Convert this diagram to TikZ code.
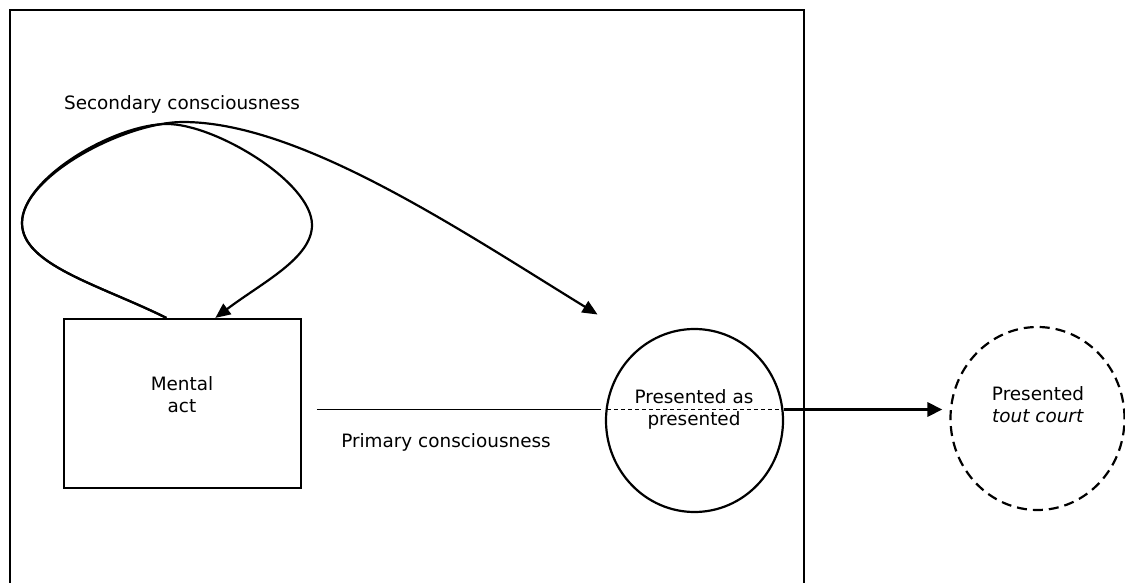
\documentclass[tikz,border=0pt]{standalone}
\usepackage{fontspec}
\setmainfont{DejaVu Sans}
\usetikzlibrary{arrows.meta,shapes.geometric}
\begin{document}
\begin{tikzpicture}[x=1pt, y=-1pt,
    lbl/.style={inner sep=0pt, align=center, font=\fontsize{18.4}{21.5}\selectfont},
    actbox/.style={draw, line width=2.2pt, inner sep=0pt, minimum width=237pt, minimum height=169pt},
    bubble/.style={draw, ellipse, line width=2.2pt, inner sep=0pt, minimum width=177pt, minimum height=183pt},
    conn/.style={line width=2.2pt, -{Triangle[length=15pt, width=13pt]}}]
  \useasboundingbox (0,0) rectangle (1125,583);
  \begin{scope}
    \draw[line width=2.2pt] (10,583) -- (10,10) -- (804,10) -- (804,583);
    \node[actbox] (act) at (182.35,403.5) {};
    \node[bubble] (presas) at (694.5,420.5) {};
    \node[bubble, dash pattern=on 10pt off 6pt, minimum width=174pt] (tout) at (1037.5,418.5) {};
    \node[lbl, anchor=base] (actlbl) at (182,412) {Mental\\act};
    \node[lbl, anchor=base] (presaslbl) at (694,425) {Presented as\\presented};
    \node[lbl, anchor=base] (toutlbl) at (1038,422) {Presented\\\textit{tout court}};
    \node[lbl, anchor=base] (seclbl) at (182,110) {Secondary consciousness};
    \node[lbl, anchor=base] (primlbl) at (446,447) {Primary consciousness};
    \coordinate (axis) at (0,409.5);
    \coordinate (actout) at ([xshift=-16pt]act.north);
    \coordinate (actin) at ([xshift=33pt]act.north);
    \coordinate (presasin) at ([shift={(-97,-106)}]presas.center);
    \draw[conn] (actout) .. controls (100,285) and (22,265) .. (22,223)
      .. controls (22,178) and (115,124) .. (167,124)
      .. controls (215,124) and (312,182) .. (312,225)
      .. controls (312,258) and (263,282) .. (actin);
    \draw[conn] (actout) .. controls (100,285) and (22,265) .. (22,223)
      .. controls (22,176) and (125,122) .. (183,122)
      .. controls (300,122) and (460,230) .. (presasin);
    \draw[line width=1pt, shorten <=15pt, shorten >=4pt] (act.east |- axis) -- (presas.west |- axis);
    \draw[line width=1pt, dash pattern=on 4pt off 3pt, shorten <=2pt, shorten >=2pt] (presas.west |- axis) -- (presas.east |- axis);
    \draw[line width=3pt, -{Triangle[length=15pt, width=14pt]}, shorten >=7pt] (presas.east |- axis) -- (tout.west |- axis);
  \end{scope}
\end{tikzpicture}
\end{document}
